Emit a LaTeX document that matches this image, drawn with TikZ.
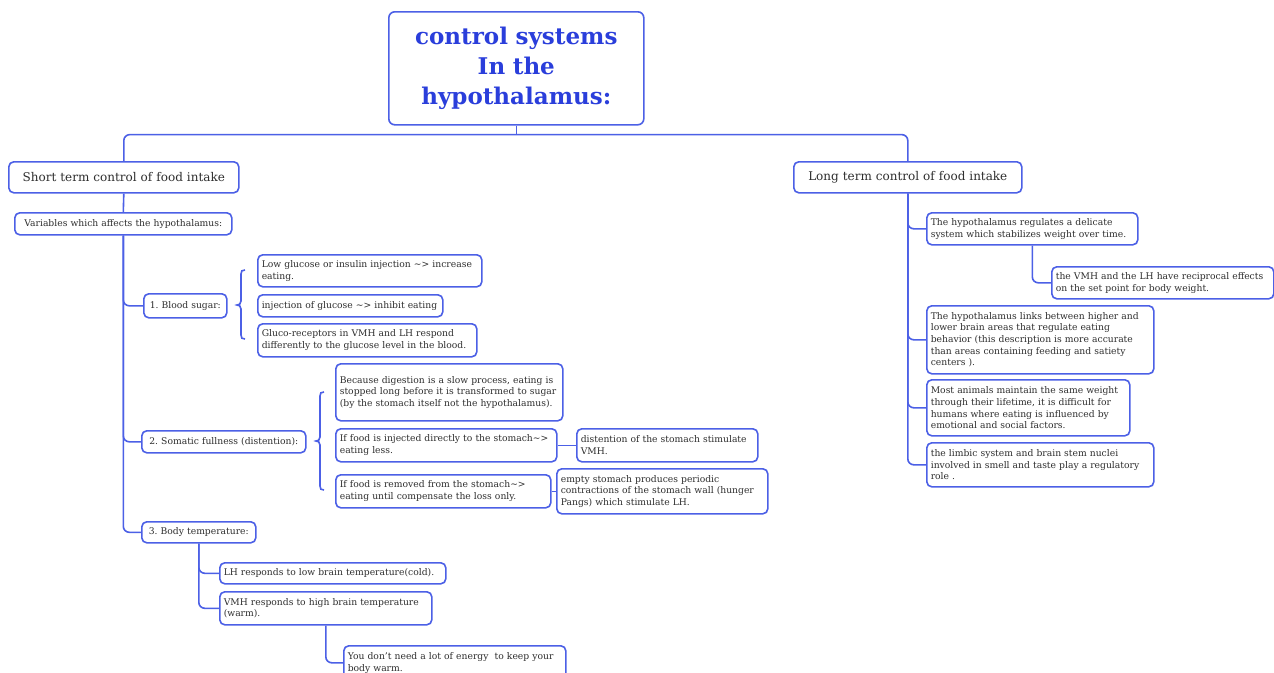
\documentclass[tikz,border=0pt]{standalone}
\usepackage{fontspec}
\setmainfont{DejaVu Serif}
\frenchspacing
\definecolor{lineblue}{HTML}{4C60E6}
\definecolor{titleblue}{HTML}{2A3EDB}
\definecolor{txtgray}{HTML}{2E2E2E}
\tikzset{
  box/.style={draw=lineblue, line width=1.6pt, rounded corners=5pt, fill=white,
    text=txtgray, align=left, inner xsep=4pt, inner ysep=1pt, anchor=north west,
    font=\fontsize{9.2}{11.7}\selectfont},
  cbox/.style={box, align=center},
  bigbox/.style={cbox, font=\fontsize{12}{14}\selectfont},
  titlebox/.style={draw=lineblue, line width=1.6pt, rounded corners=6pt, fill=white,
    text=titleblue, align=center, anchor=north west,
    font=\fontsize{23}{30}\selectfont\bfseries},
  conn/.style={draw=lineblue, line width=1.6pt, rounded corners=6pt},
  plain/.style={draw=lineblue, line width=1.6pt},
}
\begin{document}
\begin{tikzpicture}[x=1pt,y=-1pt]
\useasboundingbox[fill=white] (0,0) rectangle (1274,672);

% title
\node[titlebox, minimum width=255pt, minimum height=113pt, text width=247pt] (title) at (388,11)
  {control systems\\In the\\hypothalamus:};

% level 1
\node[bigbox, minimum width=230pt, minimum height=31pt, text width=222pt] (st) at (8,161) {Short term control of food intake};
\node[bigbox, minimum width=228pt, minimum height=31pt, text width=220pt] (lt) at (793,161) {Long term control of food intake};

% short term
\node[cbox, minimum width=217pt, minimum height=22pt, text width=209pt] (var) at (14,212) {Variables which affects the hypothalamus:};

\node[cbox, minimum width=83pt, minimum height=24pt, text width=75pt] (bs) at (143,293) {1. Blood sugar:};
\node[box, minimum width=224pt, minimum height=32pt, text width=216pt] (b1) at (257,254) {Low glucose or insulin injection \textasciitilde{}> increase\\eating.};
\node[box, minimum width=185pt, minimum height=22pt, text width=177pt] (b2) at (257,294) {injection of glucose \textasciitilde{}> inhibit eating};
\node[box, minimum width=219pt, minimum height=33pt, text width=211pt] (b3) at (257,323) {Gluco-receptors in VMH and LH respond\\differently to the glucose level in the blood.};

\node[cbox, minimum width=164pt, minimum height=22pt, text width=156pt] (som) at (141,430) {2. Somatic fullness (distention):};
\node[box, minimum width=227pt, minimum height=57pt, text width=219pt] (s1) at (335,363) {Because digestion is a slow process, eating is\\stopped long before it is transformed to sugar\\(by the stomach itself not the hypothalamus).\\[12pt]};
\node[box, minimum width=221pt, minimum height=33pt, text width=213pt] (s2) at (335,428) {If food is injected directly to the stomach\textasciitilde{}>\\eating less.};
\node[box, minimum width=215pt, minimum height=33pt, text width=207pt] (s3) at (335,474) {If food is removed from the stomach\textasciitilde{}>\\eating until compensate the loss only.};
\node[box, minimum width=181pt, minimum height=33pt, text width=173pt] (s2a) at (576,428) {distention of the stomach stimulate\\VMH.};
\node[box, minimum width=211pt, minimum height=45pt, text width=203pt] (s3a) at (556,468) {empty stomach produces periodic\\contractions of the stomach wall (hunger\\Pangs) which stimulate LH.};

\node[cbox, minimum width=114pt, minimum height=21pt, text width=106pt] (bt) at (141,521) {3. Body temperature:};
\node[box, minimum width=226pt, minimum height=21pt, text width=218pt] (t1) at (219,562) {LH responds to low brain temperature(cold).};
\node[box, minimum width=212pt, minimum height=33pt, text width=204pt] (t2) at (219,591) {VMH responds to high brain temperature\\(warm).};
\node[box, minimum width=222pt, minimum height=34pt, text width=214pt] (t2a) at (343,645) {You don't need a lot of energy\ \ to keep your\\body warm.};

% long term
\node[box, minimum width=211pt, minimum height=32pt, text width=203pt] (r1) at (926,212) {The hypothalamus regulates a delicate\\system which stabilizes weight over time.};
\node[box, minimum width=222pt, minimum height=32pt, text width=214pt] (r1a) at (1051,266) {the VMH and the LH have reciprocal effects\\on the set point for body weight.};
\node[box, minimum width=227pt, minimum height=68pt, text width=219pt] (r2) at (926,305) {The hypothalamus links between higher and\\lower brain areas that regulate eating\\behavior (this description is more accurate\\than areas containing feeding and satiety\\centers ).};
\node[box, minimum width=203pt, minimum height=56pt, text width=195pt] (r3) at (926,379) {Most animals maintain the same weight\\through their lifetime, it is difficult for\\humans where eating is influenced by\\emotional and social factors.};
\node[box, minimum width=227pt, minimum height=44pt, text width=219pt] (r4) at (926,442) {the limbic system and brain stem nuclei\\involved in smell and taste play a regulatory\\role .};

% connectors
\draw[plain] (title.south) -- ++(0,9) coordinate (tj);
\draw[conn] (st.north) |- (tj) -| (lt.north);
\draw[conn] (st.south) -- (var.north);
\draw[conn] (var.south) |- (bs.west);
\draw[conn] (var.south) |- (som.west);
\draw[conn] (var.south) |- (bt.west);
\draw[conn] (bt.south) |- (t1.west);
\draw[conn] (bt.south) |- (t2.west);
\draw[conn] (t2.south) |- (t2a.west);
\draw[conn] (s2.east) -- (s2a.west);
\draw[conn] (s3.east) -- (s3a.west);
\draw[conn] (lt.south) |- (r1.west);
\draw[conn] (lt.south) |- (r2.west);
\draw[conn] (lt.south) |- (r3.west);
\draw[conn] (lt.south) |- (r4.west);
\draw[conn] (r1.south) |- (r1a.west);

% braces
\draw[plain] (245,270) .. controls (242,270) and (241,271) .. (241,274) -- (241,301)
  .. controls (241,304) and (239,305) .. (237,305) .. controls (239,305) and (241,306) .. (241,309)
  -- (241,335) .. controls (241,338) and (242,339) .. (245,339);
\draw[plain] (324,392) .. controls (321,392) and (320,393) .. (320,396) -- (320,437)
  .. controls (320,440) and (318,441) .. (316,441) .. controls (318,441) and (320,442) .. (320,445)
  -- (320,486) .. controls (320,489) and (321,490) .. (324,490);
\end{tikzpicture}
\end{document}
